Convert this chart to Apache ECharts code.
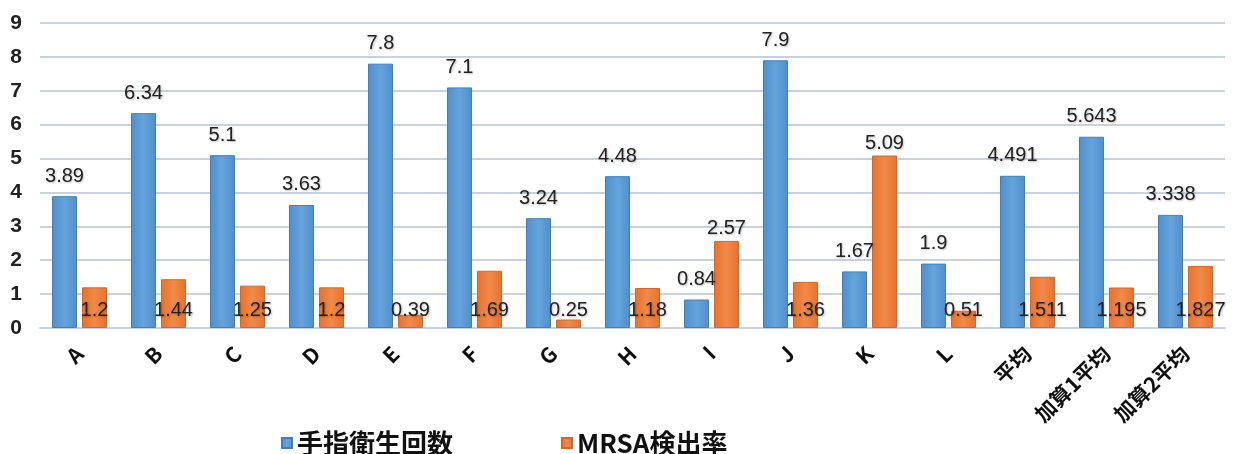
<!DOCTYPE html>
<html>
<head>
<meta charset="utf-8">
<script src="https://cdn.jsdelivr.net/npm/echarts@6/dist/echarts.min.js"></script>
<style>
  html, body { margin: 0; padding: 0; background: #fff; }
  #chart { width: 1247px; height: 454px; }
</style>
</head>
<body>
<div id="chart"></div>
<script>
// Categories along the x axis
const categories = ['A', 'B', 'C', 'D', 'E', 'F', 'G', 'H', 'I', 'J', 'K', 'L', '平均', '加算1平均', '加算2平均'];
// 手指衛生回数
const handHygiene = [3.89, 6.34, 5.1, 3.63, 7.8, 7.1, 3.24, 4.48, 0.84, 7.9, 1.67, 1.9, 4.491, 5.643, 3.338];
// MRSA検出率
const mrsaRate = [1.2, 1.44, 1.25, 1.2, 0.39, 1.69, 0.25, 1.18, 2.57, 1.36, 5.09, 0.51, 1.511, 1.195, 1.827];
// Categories whose MRSA label sits above the bar instead of at its base
const mrsaLabelOnTop = ['I', 'K'];

const FONT = '"Liberation Sans", "Noto Sans CJK JP", sans-serif';
const CJK = '"Noto Sans CJK JP", "Liberation Sans", sans-serif';

const blueFill = new echarts.graphic.LinearGradient(0, 0, 1, 0, [
  { offset: 0, color: '#4f8fcc' },
  { offset: 0.5, color: '#65a3db' },
  { offset: 1, color: '#4f8fcc' }
]);
const orangeFill = new echarts.graphic.LinearGradient(0, 0, 1, 0, [
  { offset: 0, color: '#e8722a' },
  { offset: 0.5, color: '#f08a4a' },
  { offset: 1, color: '#e8722a' }
]);

const valueLabel = {
  show: true,
  fontFamily: FONT,
  fontSize: 20,
  color: '#222',
  textShadowColor: 'rgba(0,0,0,0.25)',
  textShadowBlur: 2,
  textShadowOffsetX: 1,
  textShadowOffsetY: 1
};

const mrsaData = mrsaRate.map((v, i) => {
  const top = mrsaLabelOnTop.includes(categories[i]);
  return {
    value: v,
    label: top
      ? { position: 'top', distance: 2 }
      : { position: 'insideBottom', distance: 8 }
  };
});

const chart = echarts.init(document.getElementById('chart'));
chart.setOption({
  animation: false,
  backgroundColor: '#fff',
  grid: { left: 40, right: 22, top: 23, bottom: 126 },
  legend: {
    left: 276,
    top: 425,
    itemWidth: 10,
    itemHeight: 10,
    itemGap: 108,
    icon: 'rect',
    textStyle: { fontFamily: CJK, fontSize: 26, fontWeight: 'bold', color: '#111' },
    data: ['手指衛生回数', 'MRSA検出率']
  },
  xAxis: {
    type: 'category',
    data: categories,
    axisLine: { lineStyle: { color: '#c8d2de', width: 2 } },
    axisTick: { show: false },
    axisLabel: {
      interval: 0,
      rotate: 45,
      margin: 22,
      fontFamily: CJK,
      fontSize: 21,
      fontWeight: 'bold',
      color: '#111'
    }
  },
  yAxis: {
    type: 'value',
    min: 0,
    max: 9,
    interval: 1,
    axisLine: { show: false },
    axisTick: { show: false },
    splitLine: { lineStyle: { color: '#c8d2de', width: 2 } },
    axisLabel: {
      margin: 18,
      fontFamily: FONT,
      fontSize: 21,
      fontWeight: 'bold',
      color: '#222'
    }
  },
  series: [
    {
      name: '手指衛生回数',
      type: 'bar',
      data: handHygiene,
      barWidth: 25,
      barGap: '20%',
      itemStyle: { color: blueFill, borderColor: '#3f7fbf', borderWidth: 1 },
      label: Object.assign({}, valueLabel, { position: 'top', distance: 10 })
    },
    {
      name: 'MRSA検出率',
      type: 'bar',
      data: mrsaData,
      barWidth: 25,
      barGap: '20%',
      itemStyle: { color: orangeFill, borderColor: '#d8642a', borderWidth: 1 },
      label: valueLabel
    }
  ]
});
</script>
</body>
</html>
